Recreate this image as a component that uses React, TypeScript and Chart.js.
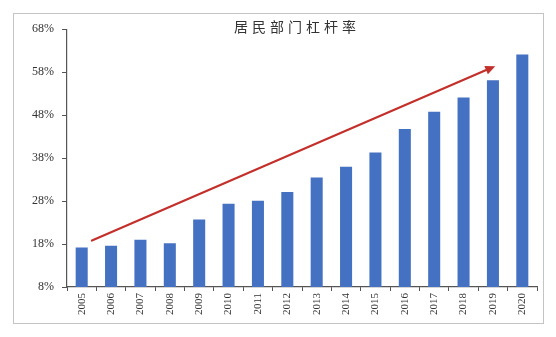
import React, { useEffect, useRef } from "react";
import { Chart, registerables } from "chart.js";

Chart.register(...registerables);

const years = ["2005","2006","2007","2008","2009","2010","2011","2012","2013","2014","2015","2016","2017","2018","2019","2020"];
const leverage = [17.2, 17.6, 19.0, 18.2, 23.7, 27.4, 28.1, 30.1, 33.5, 36.0, 39.3, 44.8, 48.8, 52.1, 56.1, 62.1];
const yTicks = [8, 18, 28, 38, 48, 58, 68];
const title = "居民部门杠杆率";
// arrow endpoints in data space: [category index, value]
const arrowStart = [0.35, 18.8];
const arrowEnd = [14.08, 59.4];

const overlayPlugin = {
  id: "overlay",
  afterDatasetsDraw(chart: any) {
    const { ctx, scales } = chart;
    const x = scales.x, y = scales.y;
    const x0 = x.getPixelForValue(arrowStart[0]);
    const y0 = y.getPixelForValue(arrowStart[1]);
    const x1 = x.getPixelForValue(arrowEnd[0]);
    const y1 = y.getPixelForValue(arrowEnd[1]);
    const ang = Math.atan2(y1 - y0, x1 - x0);
    const headLen = 10, headW = 4.5;
    ctx.save();
    ctx.strokeStyle = "#c3302b";
    ctx.fillStyle = "#c3302b";
    ctx.lineWidth = 2.2;
    ctx.lineCap = "round";
    ctx.beginPath();
    ctx.moveTo(x0, y0);
    ctx.lineTo(x1 - Math.cos(ang) * (headLen - 2), y1 - Math.sin(ang) * (headLen - 2));
    ctx.stroke();
    const bx = x1 - Math.cos(ang) * headLen, by = y1 - Math.sin(ang) * headLen;
    ctx.beginPath();
    ctx.moveTo(x1, y1);
    ctx.lineTo(bx + Math.sin(ang) * headW, by - Math.cos(ang) * headW);
    ctx.lineTo(bx - Math.sin(ang) * headW, by + Math.cos(ang) * headW);
    ctx.closePath();
    ctx.fill();
    ctx.restore();

    ctx.save();
    ctx.font = "14px 'Noto Sans CJK SC'";
    ctx.fillStyle = "#333";
    (ctx as any).letterSpacing = "4px";
    ctx.textAlign = "center";
    ctx.textBaseline = "middle";
    ctx.fillText(title, 283, 13);
    ctx.restore();
  },
};

export default function App() {
  const ref = useRef<HTMLCanvasElement>(null);
  useEffect(() => {
    if (!ref.current) return;
    const chart = new Chart(ref.current, {
      type: "bar",
      data: {
        labels: years,
        datasets: [
          {
            data: leverage,
            backgroundColor: "#4471c2",
            barPercentage: 0.41,
            categoryPercentage: 1,
          },
        ],
      },
      options: {
        animation: false,
        responsive: false,
        layout: { padding: { top: 11, right: 6, left: 0, bottom: 0 } },
        plugins: { legend: { display: false }, tooltip: { enabled: false }, title: { display: false } },
        scales: {
          x: {
            offset: true,
            grid: { display: true, drawOnChartArea: false, offset: true, tickLength: 4, color: "#555", tickColor: "#555" },
            border: { color: "#555", width: 1.2 },
            ticks: {
              minRotation: 90,
              maxRotation: 90,
              padding: 2,
              color: "#333",
              font: { family: "'Liberation Serif'", size: 11 },
              autoSkip: false,
            },
            afterFit(scale: any) { scale.height = 36; },
          },
          y: {
            min: yTicks[0],
            max: yTicks[yTicks.length - 1],
            afterBuildTicks(scale: any) { scale.ticks = yTicks.map((v) => ({ value: v })); },
            grid: { display: true, drawOnChartArea: false, tickLength: 5, color: "#555", tickColor: "#555" },
            border: { color: "#555", width: 1.2 },
            ticks: {
              padding: 8,
              color: "#333",
              font: { family: "'Liberation Serif'", size: 12 },
              callback: (v: any) => v + "%",
            },
            afterFit(scale: any) { scale.width = 53; },
          },
        },
      },
      plugins: [overlayPlugin],
    });
    return () => chart.destroy();
  }, []);
  return (
    <div
      style={{
        position: "absolute",
        left: 13,
        top: 13,
        width: 531,
        height: 311,
        border: "1px solid #c4c4c4",
        boxSizing: "border-box",
        background: "#fff",
      }}
    >
      <canvas ref={ref} width={529} height={309} style={{ display: "block" }} />
    </div>
  );
}
